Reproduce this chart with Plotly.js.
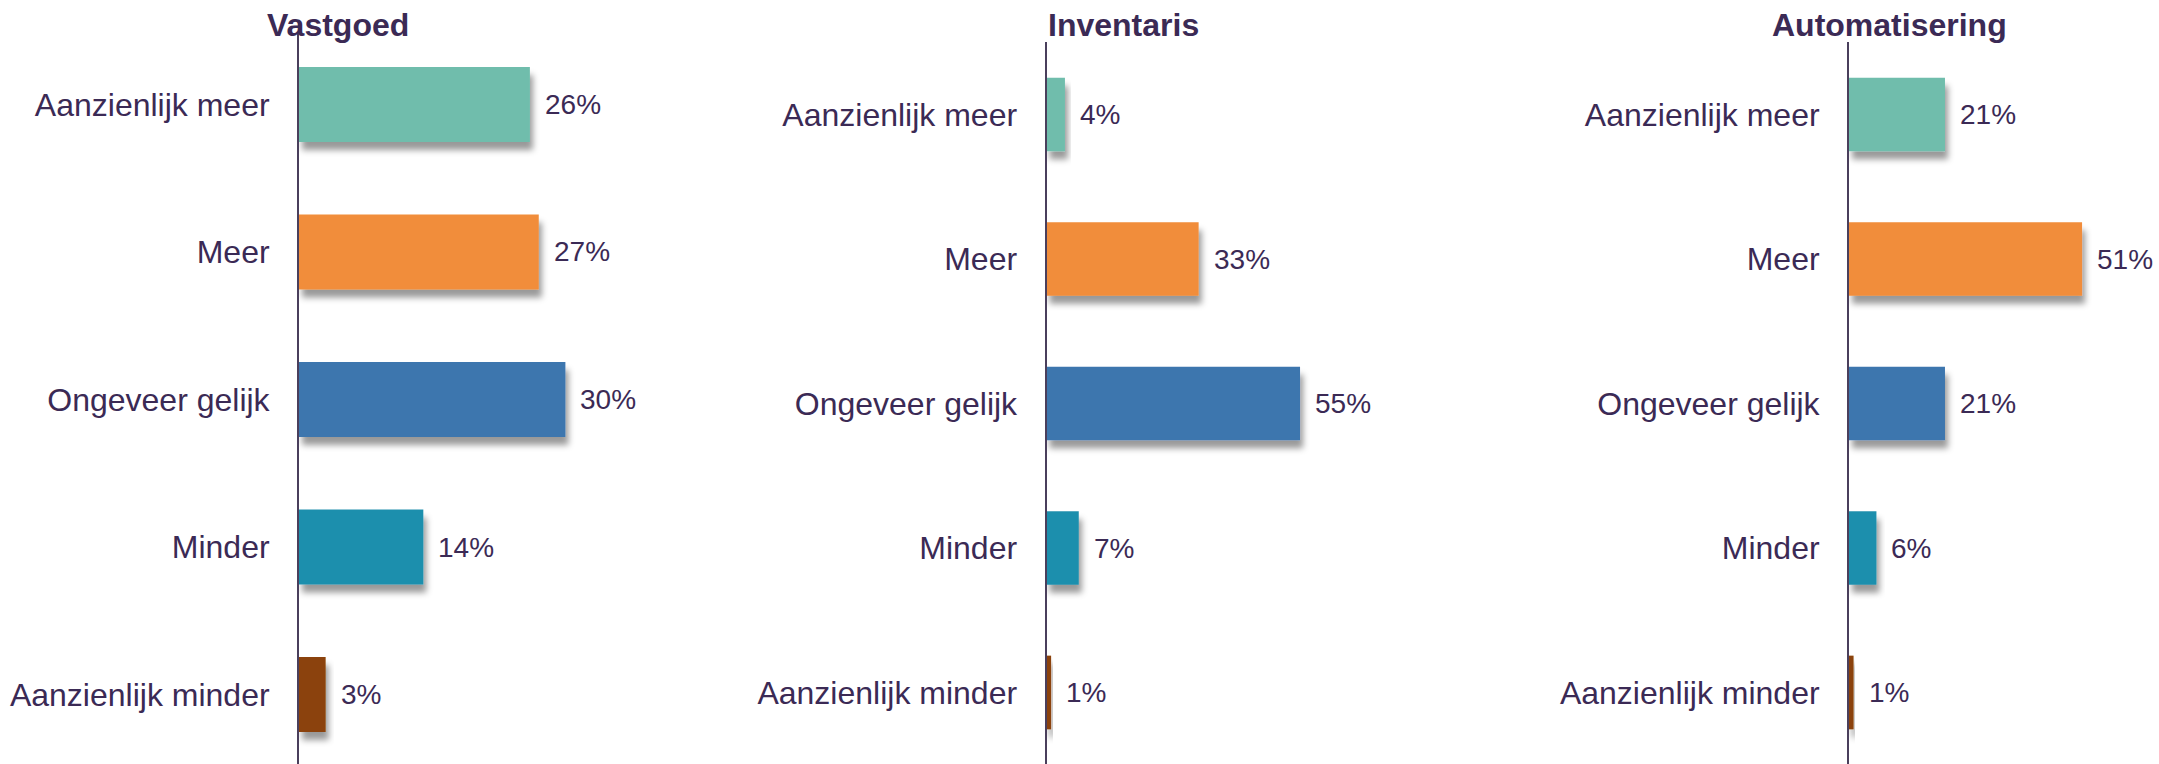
<!DOCTYPE html>
<html>
<head>
<meta charset="utf-8">
<script src="https://cdn.plot.ly/plotly-3.0.1.min.js"></script>
<style>
  html, body { margin: 0; padding: 0; background: #fff; }
  #chart { width: 2159px; height: 764px; }
</style>
</head>
<body>
<div id="chart"></div>
<script>
// ---- data ----
const categories = ['Aanzienlijk meer', 'Meer', 'Ongeveer gelijk', 'Minder', 'Aanzienlijk minder'];
const panelTitles = ['Vastgoed', 'Inventaris', 'Automatisering'];
const vastgoed = [26, 27, 30, 14, 3];
const inventaris = [4, 33, 55, 7, 1];
const automatisering = [21, 51, 21, 6, 1];
const barColors = ['#6FBDAC', '#F18D3B', '#3C76AE', '#1F8FAD', '#8B4309'];

// ---- styling / layout ----
const W = 2159, H = 764;
const FONT = '"Liberation Sans", Arial, sans-serif';
const TEXT = '#3B2A55';
const seriesList = [vastgoed, inventaris, automatisering];
const panels = [
  {x0: 299, x1: 760, pxPerUnit: 8.88, top: 33, firstCenter: 104.5, pitch: 147.5, titleX: 338},
  {x0: 1046.5, x1: 1560, pxPerUnit: 4.61, top: 42, firstCenter: 114.5, pitch: 144.5, titleX: 1123},
  {x0: 1849, x1: 2159, pxPerUnit: 4.57, top: 42, firstCenter: 114.5, pitch: 144.5, titleX: 1889}
];

const traces = [];
const annotations = [];
const layout = {
  width: W, height: H,
  margin: {l: 0, r: 0, t: 0, b: 0},
  paper_bgcolor: '#fff', plot_bgcolor: '#fff',
  showlegend: false,
  font: {family: FONT, color: TEXT},
  barmode: 'overlay',
  annotations: annotations
};

panels.forEach((p, i) => {
  const n = i === 0 ? '' : String(i + 1);
  const xa = 'x' + n, ya = 'y' + n;
  const vals = seriesList[i];
  traces.push({
    type: 'bar', orientation: 'h',
    x: vals, y: categories,
    xaxis: xa, yaxis: ya,
    width: 0.51,
    marker: {color: barColors, line: {width: 0}},
    hoverinfo: 'x+y'
  });
  const rangeMax = (p.x1 - p.x0) / p.pxPerUnit;
  layout['xaxis' + n] = {
    domain: [p.x0 / W, p.x1 / W],
    range: [0, rangeMax],
    anchor: ya,
    visible: false, fixedrange: true
  };
  const topVal = -(p.firstCenter - p.top) / p.pitch;
  const botVal = topVal + (H - p.top) / p.pitch;
  layout['yaxis' + n] = {
    domain: [0, (H - p.top) / H],
    anchor: xa,
    type: 'category',
    categoryorder: 'array', categoryarray: categories,
    range: [botVal, topVal],
    showline: true, linecolor: '#4A3F5C', linewidth: 2,
    showgrid: false, zeroline: false,
    ticks: '', ticklabelstandoff: 21,
    tickfont: {family: FONT, size: 32, color: TEXT},
    fixedrange: true
  };
  vals.forEach((v, k) => {
    annotations.push({
      xref: xa, yref: ya, x: v, y: categories[k],
      text: v + '%', showarrow: false,
      xanchor: 'left', yanchor: 'middle', xshift: 13,
      font: {family: FONT, size: 28, color: TEXT}
    });
  });
  annotations.push({
    xref: 'paper', yref: 'paper',
    x: p.titleX / W, y: 1, yshift: -5,
    xanchor: 'center', yanchor: 'top',
    text: '<b>' + panelTitles[i] + '</b>', showarrow: false,
    font: {family: FONT, size: 32, color: TEXT}
  });
});

Plotly.newPlot('chart', traces, layout, {staticPlot: true}).then(gd => {
  const svg = gd.querySelector('svg.main-svg');
  const ns = 'http://www.w3.org/2000/svg';
  let defs = svg.querySelector('defs');
  if (!defs) { defs = document.createElementNS(ns, 'defs'); svg.insertBefore(defs, svg.firstChild); }
  const f = document.createElementNS(ns, 'filter');
  f.setAttribute('id', 'barShadow');
  f.setAttribute('x', '-20%'); f.setAttribute('y', '-20%');
  f.setAttribute('width', '150%'); f.setAttribute('height', '160%');
  const ds = document.createElementNS(ns, 'feDropShadow');
  ds.setAttribute('dx', '3'); ds.setAttribute('dy', '8');
  ds.setAttribute('stdDeviation', '3');
  ds.setAttribute('flood-color', '#000'); ds.setAttribute('flood-opacity', '0.4');
  f.appendChild(ds);
  defs.appendChild(f);
  gd.querySelectorAll('.bars .point path').forEach(el => el.setAttribute('filter', 'url(#barShadow)'));
});
</script>
</body>
</html>
